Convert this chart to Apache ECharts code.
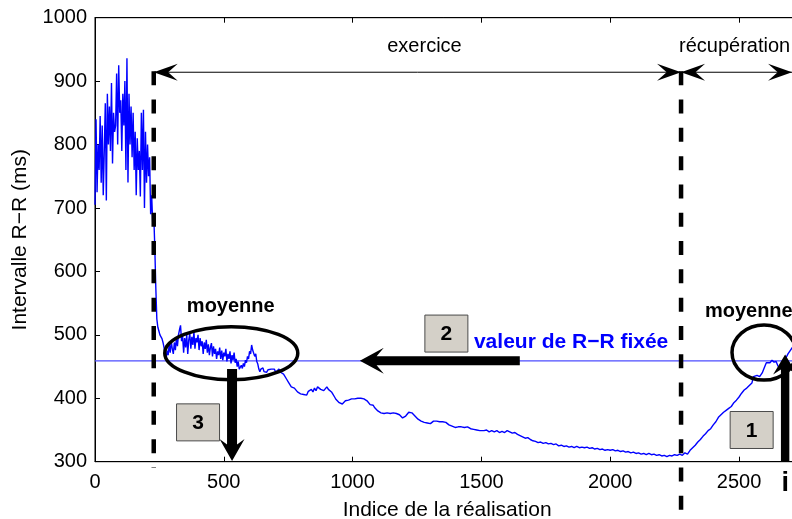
<!DOCTYPE html>
<html>
<head>
<meta charset="utf-8">
<script src="https://cdn.jsdelivr.net/npm/echarts/dist/echarts.min.js"></script>
<style>
  html, body { margin: 0; padding: 0; background: #fff; }
  #c { width: 792px; height: 519px; }
</style>
</head>
<body>
<div id="c"></div>
<script>
// Intervalles R-R successifs (ms) en fonction de l'indice de la réalisation.
// Repos avant l'exercice
const repos = [
  [0,705],[4,840],[8,725],[12,800],[16,760],[20,845],[24,740],[28,830],[32,720],[36,790],
  [40,865],[44,712],[48,880],[52,800],[56,860],[60,790],[64,897],[68,770],[72,850],[76,820],
  [80,830],[84,912],[88,800],[92,925],[96,850],[100,870],[104,790],[108,880],[112,830],[116,900],
  [120,760],[124,936],[128,740],[132,880],[136,800],[140,860],[144,780],[148,850],[152,760],[156,820],
  [160,720],[164,810],[168,760],[172,790],[176,718],[180,850],[184,760],[188,855],[192,700],[196,820],
  [200,740],[204,800],[208,750],[212,780],[216,690],[220,720],[224,676],[228,690]
];

// Phase d'exercice
const exercice = [
  [232,640],[236,575],[240,525],[244,512],[248,506],[252,500],[256,503],[260,494],[264,488],[268,480],
  [272,470],[276,462],[280,475],[284,468],[288,485],[292,472],[296,490],[300,478],[304,470],[308,488],
  [312,476],[316,495],[320,482],[324,500],[328,508],[332,515],[336,490],[340,498],[344,472],[348,495],
  [352,480],[356,500],[360,470],[364,492],[368,502],[372,478],[376,497],[380,484],[384,505],[388,478],
  [392,495],[396,488],[400,500],[404,476],[408,495],[412,482],[416,490],[420,470],[424,488],[428,478],
  [432,492],[436,472],[440,485],[444,468],[448,480],[452,487],[456,466],[460,482],[464,470],[468,478],
  [472,462],[476,474],[480,468],[484,480],[488,462],[492,475],[496,460],[500,472],[504,466],[508,478],
  [512,458],[516,470],[520,462],[524,474],[528,455],[532,468],[536,460],[540,472],[544,456],[548,462],
  [552,450],[556,458],[560,446],[564,443],[568,452],[572,447],[576,455],[580,450],[584,460],[588,456],
  [592,466],[596,462],[600,474],[604,470],[608,484],[612,476],[616,478],[620,466],[624,470],[628,458],
  [632,454],[636,446],[640,442],[644,446],[648,444],[652,448],[656,442],[660,444],[666,441],[672,445],
  [678,442],[684,446],[690,443],[696,446],[702,441],[708,444],[714,446],[720,441],[726,443],[732,438],
  [738,436],[744,430],[750,426],[756,422],[762,418],[768,420],[774,416],[780,414],[786,410],[792,412],
  [798,407],[804,410],[810,406],[816,409],[822,405],[828,411],[834,408],[840,414],[846,410],[852,416],
  [858,412],[864,418],[870,415],[876,414],[882,416],[888,412],[894,415],[900,418],[906,414],[912,416],
  [918,410],[924,406],[930,402],[936,398],[942,396],[948,393],[954,395],[960,391],[966,394],[972,396],
  [978,394],[984,397],[990,395],[996,399],[1002,396],[1008,399],[1014,397],[1020,400],[1026,397],[1032,400],
  [1038,402],[1044,399],[1050,400],[1056,396],[1062,394],[1068,390],[1074,388],[1080,389],[1086,385],[1092,383],
  [1098,380],[1104,379],[1110,377],[1116,378],[1122,376],[1128,378],[1134,377],[1140,379],[1146,376],[1152,378],
  [1158,377],[1164,379],[1170,376],[1176,377],[1182,374],[1188,372],[1194,369],[1200,370],[1206,372],[1212,375],
  [1218,378],[1224,380],[1230,377],[1236,374],[1242,372],[1248,369],[1254,367],[1260,366],[1266,364],[1272,365],
  [1278,362],[1284,363],[1290,361],[1296,363],[1302,360],[1308,361],[1314,364],[1320,362],[1326,364],[1332,362],
  [1338,363],[1344,361],[1350,363],[1356,361],[1362,362],[1368,359],[1374,358],[1380,355],[1386,356],[1392,353],
  [1398,354],[1404,352],[1410,355],[1416,357],[1422,355],[1428,357],[1434,354],[1440,356],[1446,355],[1452,354],
  [1458,352],[1464,353],[1470,351],[1476,352],[1482,350],[1488,351],[1494,349],[1500,350],[1510,349],[1520,350],
  [1530,347],[1540,349],[1550,347],[1560,349],[1570,346],[1580,348],[1590,346],[1600,349],[1610,347],[1620,345],
  [1630,346],[1640,343],[1650,341],[1660,339],[1670,337],[1680,338],[1690,335],[1700,333],[1710,332],[1720,330],
  [1730,331],[1740,329],[1750,330],[1760,328],[1770,329],[1780,327],[1790,328],[1800,325],[1810,326],[1820,324],
  [1830,325],[1840,323],[1850,324],[1860,322],[1870,324],[1880,322],[1890,323],[1900,322],[1910,323],[1920,321],
  [1930,322],[1940,320],[1950,321],[1960,319],[1970,320],[1980,318],[1990,319],[2000,318],[2010,319],[2020,317],
  [2030,318],[2040,316],[2050,317],[2060,315],[2070,316],[2080,314],[2090,315],[2100,313],[2110,314],[2120,312],
  [2130,313],[2140,311],[2150,313],[2160,311],[2170,312],[2180,310],[2190,311],[2200,309],[2210,310],[2220,308],
  [2230,310],[2240,309],[2250,311],[2260,310],[2270,312]
];

// Récupération
const recuperation = [
  [2280,310],[2290,314],[2300,312],[2310,318],[2320,322],[2330,326],[2340,331],[2350,335],[2360,340],[2370,344],
  [2380,349],[2390,352],[2400,358],[2410,363],[2420,370],[2430,374],[2440,378],[2450,381],[2460,384],[2470,387],
  [2480,393],[2490,397],[2500,402],[2510,408],[2520,413],[2530,416],[2540,420],[2550,424],[2556,434],[2562,432],
  [2570,436],[2580,434],[2590,440],[2600,450],[2606,456],[2612,459],[2620,456],[2628,460],[2636,457],[2644,458],
  [2650,452],[2656,448],[2662,452],[2670,458],[2680,462],[2690,470],[2700,476],[2710,482],[2720,490]
];

// Repères des phases et des annotations (coordonnées des données)
const rrFixe = 459;            // valeur de R-R fixée (ms)
const debutExercice = 228;
const finExercice = 2275;
const finRecup = 2706;
const niveauPhases = 914;      // hauteur des flèches de phase
const moyenneDebut = [529, 471];
const moyenneFin = [2597, 472];
const indiceI = 2679;
const indiceMin = 0, indiceMax = 2800;

const FONT = '"Liberation Sans", Arial, Helvetica, sans-serif';

const chart = echarts.init(document.getElementById('c'), null, { renderer: 'canvas' });

const plain = function (v) { return String(v); };

const axisCommon = {
  type: 'value', min: indiceMin, max: indiceMax, interval: 500,
  axisLine: { show: true, lineStyle: { color: '#000', width: 1 } },
  axisTick: { show: true, inside: true, length: 5, lineStyle: { color: '#000' } },
  splitLine: { show: false }
};

chart.setOption({
  animation: false,
  backgroundColor: '#fff',
  grid: {
    left: 95, top: 17.7, right: -24.3, bottom: 57.3,
    containLabel: false, outerBoundsMode: 'none',
    show: true, borderColor: '#000', borderWidth: 1, backgroundColor: 'transparent'
  },
  xAxis: [
    Object.assign({}, axisCommon, {
      position: 'bottom',
      axisLabel: { color: '#000', fontSize: 20, fontFamily: FONT, margin: 11, showMaxLabel: false, formatter: plain },
      name: 'Indice de la réalisation', nameLocation: 'middle', nameGap: 38,
      nameTextStyle: { color: '#000', fontSize: 21, fontFamily: FONT, padding: [0, 17, 0, 0] }
    }),
    Object.assign({}, axisCommon, { position: 'top', axisLabel: { show: false } })
  ],
  yAxis: {
    type: 'value', min: 300, max: 1000, interval: 100,
    axisLine: { show: true, lineStyle: { color: '#000', width: 1 } },
    axisTick: { show: true, inside: true, length: 5, lineStyle: { color: '#000' } },
    axisLabel: { color: '#000', fontSize: 20, fontFamily: FONT, margin: 8, padding: [4, 0, 0, 0], formatter: plain },
    splitLine: { show: false },
    name: 'Intervalle R−R (ms)', nameLocation: 'middle', nameGap: 64, nameRotate: 90,
    nameTextStyle: { color: '#000', fontSize: 21, fontFamily: FONT }
  },
  series: [
    {
      // valeur de R-R fixée
      type: 'line',
      data: [[indiceMin, rrFixe], [indiceMax, rrFixe]],
      symbol: 'none', silent: true, z: 1,
      lineStyle: { color: '#4d4dff', width: 1.2 }
    },
    {
      type: 'line',
      data: repos.concat(exercice, recuperation),
      symbol: 'none', z: 2,
      lineStyle: { color: '#0000ff', width: 1.4 }
    }
  ]
});

// ---- annotations ----
function P(x, y) { return chart.convertToPixel({ seriesIndex: 1 }, [x, y]); }

// tête de flèche barbelée (pointe, direction unitaire)
function tete(tip, ux, uy, L, W, k) {
  const nx = -uy, ny = ux;
  return [
    [tip[0], tip[1]],
    [tip[0] - ux * L + nx * W, tip[1] - uy * L + ny * W],
    [tip[0] - ux * L * k, tip[1] - uy * L * k],
    [tip[0] - ux * L - nx * W, tip[1] - uy * L - ny * W]
  ];
}

// flèche épaisse complète (queue -> pointe)
function flecheEpaisse(from, to, s, L, W, k) {
  const dx = to[0] - from[0], dy = to[1] - from[1];
  const d = Math.hypot(dx, dy), ux = dx / d, uy = dy / d;
  const nx = -uy, ny = ux;
  const bx = to[0] - ux * L * k, by = to[1] - uy * L * k;
  return [
    [from[0] + nx * s, from[1] + ny * s],
    [bx + nx * s, by + ny * s],
    [to[0] - ux * L + nx * W, to[1] - uy * L + ny * W],
    [to[0], to[1]],
    [to[0] - ux * L - nx * W, to[1] - uy * L - ny * W],
    [bx - nx * s, by - ny * s],
    [from[0] - nx * s, from[1] - ny * s]
  ];
}

const els = [];
const Z = 50;

// traits verticaux pointillés délimitant les phases
const a1 = P(debutExercice, niveauPhases), a1b = P(debutExercice, 290);
const a2 = P(finExercice, niveauPhases), a2b = P(finExercice, 224);
[[a1, a1b], [a2, a2b]].forEach(function (p) {
  els.push({ type: 'line', z: Z, shape: { x1: p[0][0], y1: p[0][1] - 1, x2: p[1][0], y2: p[1][1] },
    style: { stroke: '#000', lineWidth: 4.5, lineDash: [14, 14.3] } });
});

// flèches doubles horizontales des phases
const r1 = P(finRecup, niveauPhases);
els.push({ type: 'line', z: Z, shape: { x1: a1[0], y1: a1[1], x2: a2[0], y2: a2[1] }, style: { stroke: '#000', lineWidth: 1 } });
els.push({ type: 'line', z: Z, shape: { x1: a2[0], y1: a2[1], x2: r1[0], y2: r1[1] }, style: { stroke: '#000', lineWidth: 1 } });
[[a1, -1], [a2, 1], [a2, -1], [r1, 1]].forEach(function (h) {
  els.push({ type: 'polygon', z: Z, shape: { points: tete(h[0], h[1], 0, 24, 8.5, 0.6) }, style: { fill: '#000' } });
});

function texte(pos, txt, opts) {
  els.push({ type: 'text', z: Z + 2, x: pos[0], y: pos[1], style: Object.assign({
    text: txt, fill: '#000', font: '20px ' + FONT,
    align: 'center', verticalAlign: 'middle', textAlign: 'center', textVerticalAlign: 'middle'
  }, opts || {}) });
}

texte(P(1279, 955), 'exercice');
texte(P(2267, 955), 'récupération', { align: 'left', textAlign: 'left' });

// ellipses "moyenne"
const e1 = P(moyenneDebut[0], moyenneDebut[1]);
const e2 = P(moyenneFin[0], moyenneFin[1]);
els.push({ type: 'ellipse', z: Z, shape: { cx: e1[0], cy: e1[1], rx: 66.5, ry: 26.5 }, style: { fill: 'none', stroke: '#000', lineWidth: 3.5 } });
els.push({ type: 'ellipse', z: Z, shape: { cx: e2[0], cy: e2[1], rx: 32, ry: 27.5 }, style: { fill: 'none', stroke: '#000', lineWidth: 3.5 } });
texte(P(527, 545), 'moyenne', { font: 'bold 20px ' + FONT });
texte(P(2538, 537), 'moyenne', { font: 'bold 20px ' + FONT });

// flèche 2 : de la moyenne de récupération vers la valeur fixée
els.push({ type: 'polygon', z: Z, shape: { points: flecheEpaisse(P(1649, rrFixe), P(1028, rrFixe), 4.5, 24, 13, 0.7) }, style: { fill: '#000' } });
// flèche 3 : vers l'indice correspondant
els.push({ type: 'polygon', z: Z, shape: { points: flecheEpaisse(P(532, 446), P(532, 301), 5, 22, 12.5, 0.75) }, style: { fill: '#000' } });
// flèche 1 : indice i vers la moyenne
els.push({ type: 'polygon', z: Z, shape: { points: flecheEpaisse(P(indiceI, 300), P(indiceI, 469), 4.2, 20, 12, 0.75) }, style: { fill: '#000' } });

// cases numérotées
function caseNum(c, n) {
  const p = P(c[0], c[1]);
  els.push({ type: 'rect', z: Z + 1, shape: { x: p[0] - 21.5, y: p[1] - 18.5, width: 43, height: 37 },
    style: { fill: '#d4d0c8', stroke: '#4a4a4a', lineWidth: 1 } });
  texte([p[0], p[1] + 1], n, { font: 'bold 21px ' + FONT });
}
caseNum([1364, 502], '2');
caseNum([400, 362], '3');
caseNum([2549, 350], '1');

texte(P(1471, 489), 'valeur de R−R fixée', { font: 'bold 21px ' + FONT, fill: '#0000ff', align: 'left', textAlign: 'left' });
texte(P(indiceI, 265), 'i', { font: 'bold 27px ' + FONT });

chart.setOption({ graphic: { elements: els } });
</script>
</body>
</html>
